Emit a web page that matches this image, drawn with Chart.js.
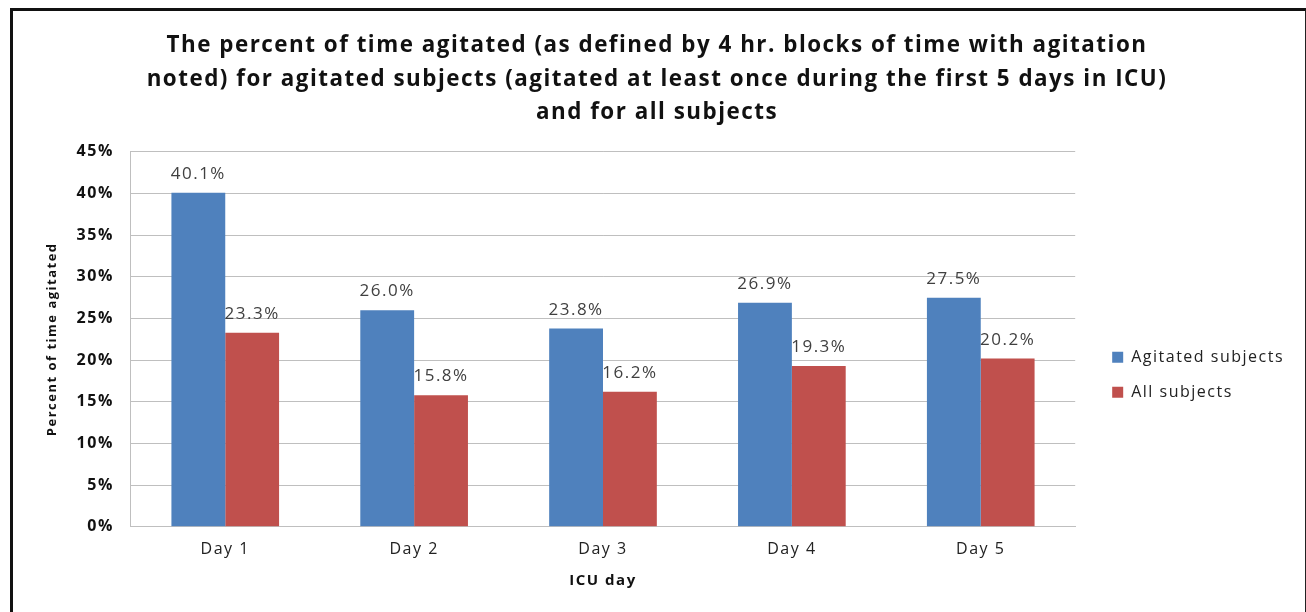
<!DOCTYPE html>
<html>
<head>
<meta charset="utf-8">
<script src="https://cdn.jsdelivr.net/npm/chart.js@4.4.1/dist/chart.umd.min.js"></script>
<style>
  html, body { margin: 0; padding: 0; background: #fff; }
  #wrap { position: relative; width: 1306px; height: 612px; }
  #grafico { position: absolute; left: 0; top: 0; }
  #moldura {
    position: absolute; left: 10px; top: 8px; width: 1292px; height: 620px;
    border-left: 3px solid #111; border-top: 3px solid #111; border-right: 2px solid #222;
    pointer-events: none;
  }
</style>
</head>
<body>
<div id="wrap">
  <canvas id="grafico" width="1306" height="612"></canvas>
  <div id="moldura"></div>
</div>
<script>
// dados
var dias = ['Day 1', 'Day 2', 'Day 3', 'Day 4', 'Day 5'];
var agitados = [40.1, 26.0, 23.8, 26.9, 27.5];
var todos = [23.3, 15.8, 16.2, 19.3, 20.2];
var ticksY = [0, 5, 10, 15, 20, 25, 30, 35, 40, 45];

var titulo = [
  'The percent of time agitated (as defined by 4 hr. blocks of time with agitation',
  'noted) for agitated subjects (agitated at least once during the first 5 days in ICU)',
  'and for all subjects'
];

// o texto original e mais largo, entao abre um pouco o espacamento das letras
const espacamento = {
  id: 'espacamento',
  beforeUpdate(chart) { chart.ctx.letterSpacing = '1.5px'; },
  beforeDraw(chart) { chart.ctx.letterSpacing = '1.5px'; }
};

// escreve o valor em cima de cada barra
const rotulosBarras = {
  id: 'rotulosBarras',
  afterDatasetsDraw(chart) {
    const ctx = chart.ctx;
    ctx.save();
    ctx.font = '17px "Open Sans"';
    ctx.fillStyle = '#404040';
    ctx.textAlign = 'center';
    ctx.textBaseline = 'bottom';
    chart.data.datasets.forEach((ds, i) => {
      chart.getDatasetMeta(i).data.forEach((barra, j) => {
        ctx.fillText(ds.data[j].toFixed(1) + '%', barra.x, barra.y - 10);
      });
    });
    ctx.restore();
  }
};

const grafico = document.getElementById('grafico').getContext('2d');

new Chart(grafico, {
  type: 'bar',
  data: {
    labels: dias,
    datasets: [{
      label: 'Agitated subjects',
      data: agitados,
      yAxisID: 'y',
      backgroundColor: '#4F81BD',
      borderWidth: 0,
      categoryPercentage: 0.57,
      barPercentage: 1.0
    }, {
      label: 'All subjects',
      data: todos,
      yAxisID: 'y',
      backgroundColor: '#C0504D',
      borderWidth: 0,
      categoryPercentage: 0.57,
      barPercentage: 1.0
    }]
  },
  plugins: [espacamento, rotulosBarras],
  options: {
    responsive: false,
    animation: false,
    layout: {
      padding: { left: 20, right: 12, top: 29, bottom: 22 }
    },
    plugins: {
      title: {
        display: true,
        text: titulo,
        color: '#111',
        font: { family: 'Open Sans', size: 22.4, weight: 'bold', lineHeight: 1.5 },
        padding: { top: 0, bottom: 22 }
      },
      legend: {
        position: 'right',
        align: 'center',
        title: { display: true, text: '', padding: { top: 116, bottom: 0 } },
        labels: {
          boxWidth: 11,
          boxHeight: 11,
          padding: 19,
          color: '#222',
          font: { family: 'Open Sans', size: 16 }
        }
      },
      tooltip: { enabled: false }
    },
    scales: {
      y: {
        min: 0,
        max: 45,
        afterBuildTicks: (eixo) => { eixo.ticks = ticksY.map(v => ({ value: v })); },
        grid: {
          color: '#BFBFBF',
          drawTicks: false
        },
        border: { color: '#BFBFBF' },
        ticks: {
          padding: 17,
          color: '#111',
          font: { family: 'Open Sans', size: 16, weight: 'bold' },
          callback: (v) => v + '%'
        },
        title: {
          display: true,
          text: 'Percent of time agitated',
          color: '#111',
          font: { family: 'Open Sans', size: 13, weight: 'bold' },
          padding: { top: 24, bottom: 0 }
        }
      },
      // eixo vazio so para afastar a legenda da area do grafico
      yDir: {
        type: 'linear',
        position: 'right',
        grid: { display: false },
        border: { display: false },
        ticks: { display: false },
        afterFit: (eixo) => { eixo.width = 18; }
      },
      x: {
        grid: { display: false, drawTicks: false },
        border: { color: '#BFBFBF' },
        ticks: {
          padding: 13,
          color: '#222',
          font: { family: 'Open Sans', size: 16 }
        },
        title: {
          display: true,
          text: 'ICU day',
          color: '#111',
          font: { family: 'Open Sans', size: 15, weight: 'bold' },
          padding: { top: 0, bottom: 0 }
        }
      }
    }
  }
});
</script>
</body>
</html>
